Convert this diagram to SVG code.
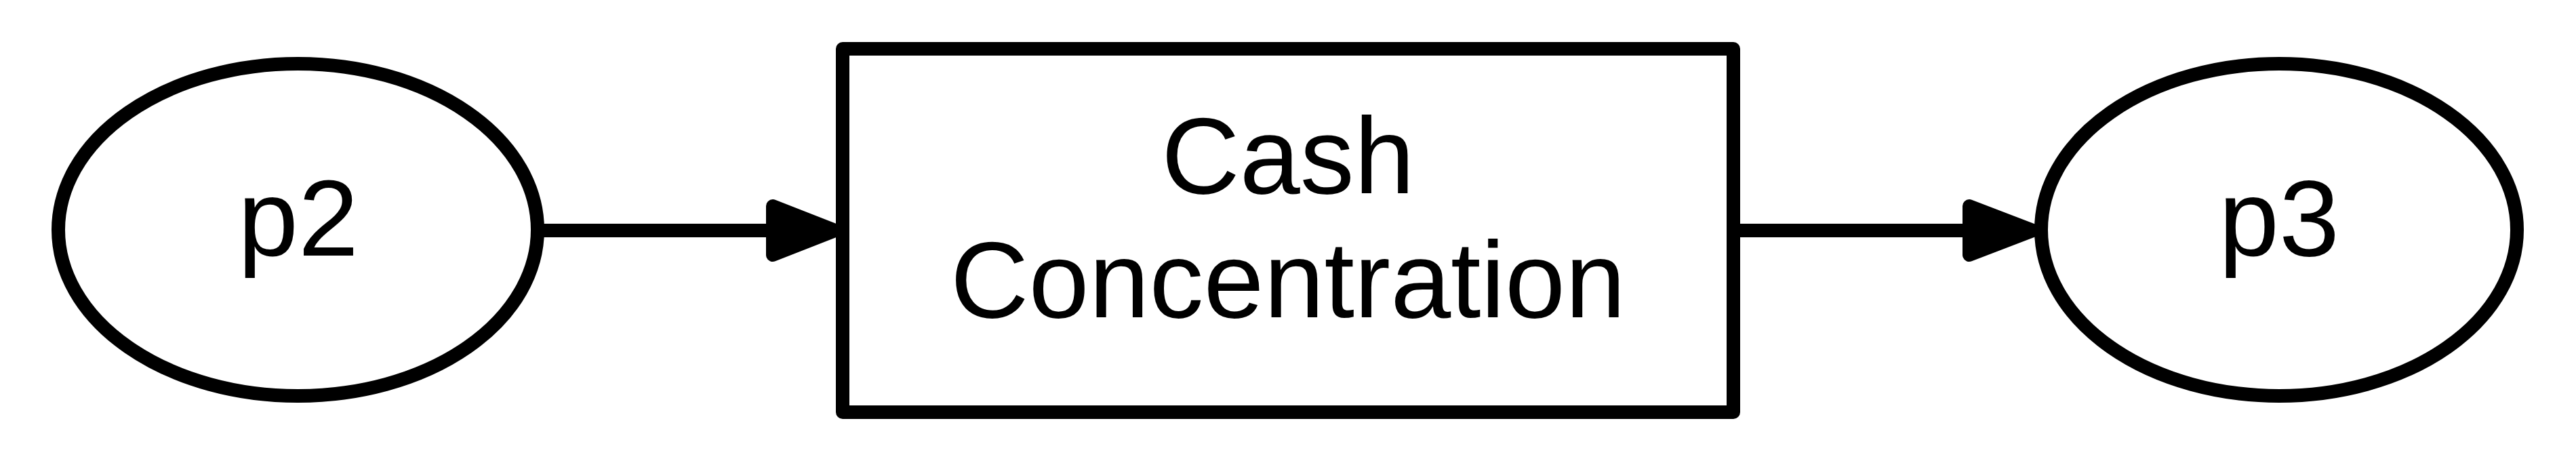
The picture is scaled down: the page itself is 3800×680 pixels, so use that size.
<svg xmlns="http://www.w3.org/2000/svg" width="3800" height="680" viewBox="0 0 3800 680">
<style>
.shape{fill:#fff;stroke:#000;stroke-width:20;stroke-linejoin:round}
.edge{fill:none;stroke:#000;stroke-width:20}
.head{fill:#000;stroke:#000;stroke-width:20;stroke-linejoin:round}
.lbl{font-family:"Liberation Sans",Arial,sans-serif;font-size:160px;fill:#000;text-anchor:middle}
</style>
<rect width="3800" height="680" fill="#fff"/>
<g id="connectors">
<line class="edge" x1="793" y1="340" x2="1140" y2="340"/>
<polygon class="head" points="1140,304 1232,340 1140,376"/>
<line class="edge" x1="2557" y1="340" x2="2905" y2="340"/>
<polygon class="head" points="2905,304 2999,340 2905,376"/>
</g>
<g id="p2">
<ellipse class="shape" cx="439.5" cy="339" rx="353.5" ry="245"/>
<text class="lbl" x="440" y="377">p2</text>
</g>
<g id="cash_concentration">
<rect class="shape" x="1243" y="72" width="1314" height="536"/>
<text class="lbl" x="1900" y="285">Cash</text>
<text class="lbl" x="1900" y="468">Concentration</text>
</g>
<g id="p3">
<ellipse class="shape" cx="3362" cy="339" rx="351" ry="245"/>
<text class="lbl" x="3362" y="377">p3</text>
</g>
</svg>
